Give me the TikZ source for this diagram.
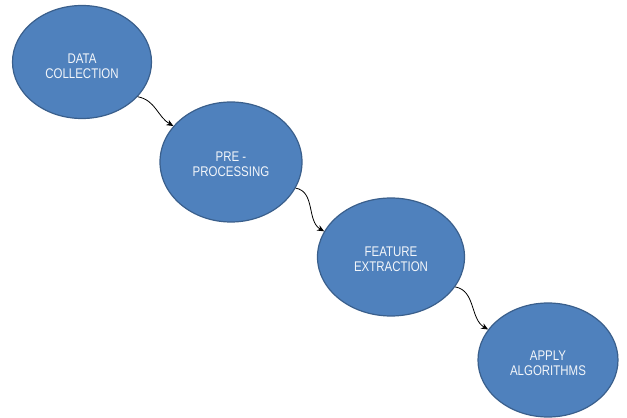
\documentclass[tikz,border=0pt]{standalone}
\usepackage{fontspec}
\setmainfont{Liberation Sans}
\usetikzlibrary{shapes.geometric,arrows.meta}
\definecolor{stepblue}{HTML}{4F81BD}
\definecolor{stepedge}{HTML}{3A5F8C}
\newcommand{\steptext}[1]{\scalebox{0.82}[1]{\begin{tabular}{@{}c@{}}#1\end{tabular}}}
\begin{document}
\begin{tikzpicture}[x=1pt,y=1pt,
    stage/.style={ellipse, draw=stepedge, line width=1.2pt, fill=stepblue,
        inner sep=0pt},
    caption/.style={text=white!93!stepblue,
        font=\fontsize{14}{15}\selectfont},
    flow/.style={-{Stealth[length=7pt,width=6pt]}, line width=0.8pt, black}]
    \useasboundingbox (0,0) rectangle (627,418);
    \node[stage, minimum width=139pt, minimum height=113pt] (DC) at (82,356) {};
    \node[stage, minimum width=142pt, minimum height=120pt] (PP) at (231,256) {};
    \node[stage, minimum width=147pt, minimum height=118pt] (FE) at (391,161) {};
    \node[stage, minimum width=140pt, minimum height=114pt] (AA) at (548,58) {};
    \node[caption] (DCt) at ([yshift=-6pt]DC.center) {\steptext{DATA\\COLLECTION}};
    \node[caption] (PPt) at ([yshift=-4pt]PP.center) {\steptext{PRE -\\PROCESSING}};
    \node[caption] (FEt) at ([yshift=-4pt]FE.center) {\steptext{FEATURE\\EXTRACTION}};
    \node[caption] (AAt) at ([yshift=-5pt]AA.center) {\steptext{APPLY\\ALGORITHMS}};
    \draw[flow] (DC.-32) to[out=-10,in=150] (PP.148);
    \draw[flow] (PP.-22) to[out=-10,in=150] (FE.159);
    \draw[flow] (FE.-25) to[out=-10,in=150] (AA.153);
\end{tikzpicture}
\end{document}
